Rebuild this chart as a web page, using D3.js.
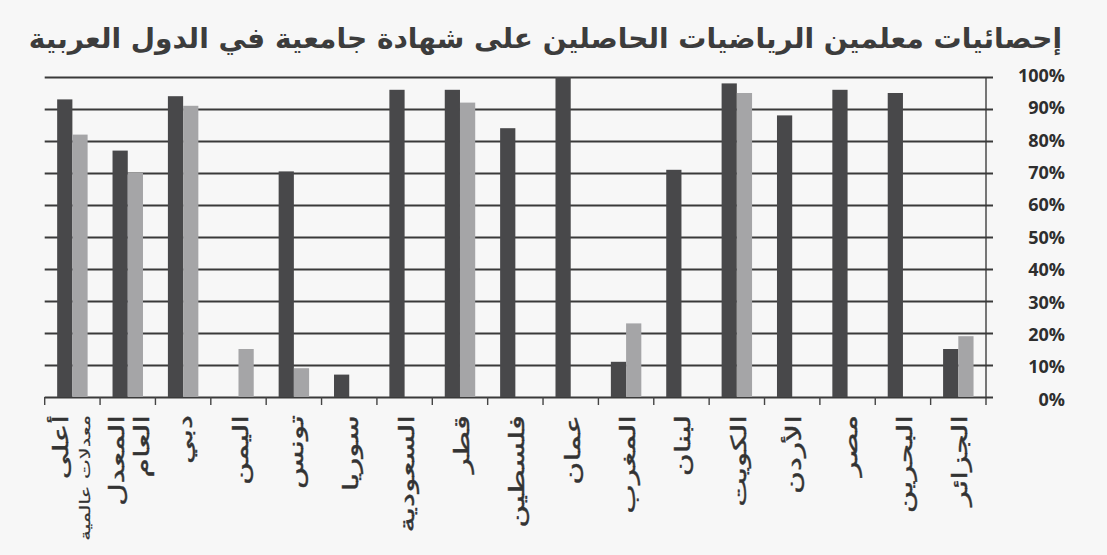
<!DOCTYPE html>
<html>
<head>
<meta charset="utf-8">
<script src="https://cdn.jsdelivr.net/npm/d3@7/dist/d3.min.js"></script>
<style>
  html, body { margin: 0; padding: 0; background: #f7f7f7; }
  svg { display: block; }
  .title { font-family: "DejaVu Sans", sans-serif; font-weight: bold; font-size: 28px; fill: #3c3c3c; }
  .cat-label { font-family: "DejaVu Sans", sans-serif; font-size: 21px; fill: #333; stroke: #333; stroke-width: 0.4px; }
  .y-tick text { font-family: "Open Sans", sans-serif; font-weight: 700; font-size: 18px; fill: #2e2e2e; }
</style>
</head>
<body>
<svg id="chart" width="1107" height="555"></svg>
<script>
// ========= data =========
const titleText = "إحصائيات معلمين الرياضيات الحاصلين على شهادة جامعية في الدول العربية";

const categories = [
    "أعلى معدلات عالمية", "المعدل العام", "دبي", "اليمن", "تونس", "سوريا",
    "السعودية", "قطر", "فلسطين", "عمان", "المغرب", "لبنان",
    "الكويت", "الأردن", "مصر", "البحرين", "الجزائر"
];

// label lines as printed under each category
const categoryLabels = [
    ["أعلى", "معدلات عالمية"], ["المعدل", "العام"], ["دبي"], ["اليمن"], ["تونس"], ["سوريا"],
    ["السعودية"], ["قطر"], ["فلسطين"], ["عمان"], ["المغرب"], ["لبنان"],
    ["الكويت"], ["الأردن"], ["مصر"], ["البحرين"], ["الجزائر"]
];

// dark series and light series (percent), null = no bar
const darkValues  = [93, 77, 94, null, 70.5, 7, 96, 96, 84, 100, 11, 71, 98, 88, 96, 95, 15];
const lightValues = [82, 70, 91, 15, 9, null, null, 92, null, null, 23, null, 95, null, null, null, 19];

const yTicks = [0, 10, 20, 30, 40, 50, 60, 70, 80, 90, 100];

// ========= svg =========
const svg = d3.select("#chart");

const plotLeft = 44.7;
const plotRight = 986;
const plotTop = 77;
const plotBottom = 397;

const x = d3.scaleBand()
    .domain(categories)
    .range([plotLeft, plotRight])
    .paddingInner(0.45)
    .paddingOuter(0.225);

const x1 = d3.scaleBand()
    .domain(["dark", "light"])
    .range([0, x.bandwidth()]);

const y = d3.scaleLinear()
    .domain([0, 100])
    .range([plotBottom, plotTop]);

const colors = { dark: "#48484a", light: "#a5a5a7" };

// ========= title =========
svg.append("text")
    .attr("class", "title")
    .attr("x", 1062)
    .attr("y", 48)
    .attr("direction", "rtl")
    .attr("text-anchor", "start")
    .text(titleText);

// ========= grid + right axis =========
const yAxis = svg.append("g")
    .attr("transform", `translate(${plotRight},0)`)
    .call(d3.axisRight(y).tickValues(yTicks).tickSize(7).tickFormat(d => `${d}%`));

yAxis.select(".domain")
    .attr("d", `M0,${plotTop}V${plotBottom + 8}`)
    .attr("stroke", "#555")
    .attr("stroke-width", 1.6);

yAxis.selectAll(".tick").attr("class", "tick y-tick");
yAxis.selectAll(".tick line")
    .attr("x1", plotLeft - plotRight)
    .attr("x2", 7)
    .attr("stroke", "#3a3a3a")
    .attr("stroke-width", 2);
yAxis.selectAll(".tick text")
    .attr("x", 79)
    .attr("dy", d => `${0.45 - d * 0.002}em`)
    .attr("text-anchor", "end");

// ========= bottom ticks at category boundaries =========
const boundaries = categories.map(c => x(c) - (x.step() - x.bandwidth()) / 2);

svg.append("g")
    .selectAll("line")
    .data(boundaries)
    .join("line")
    .attr("x1", d => d)
    .attr("x2", d => d)
    .attr("y1", plotBottom)
    .attr("y2", plotBottom + 8)
    .attr("stroke", "#444")
    .attr("stroke-width", 1.4);

// ========= bars =========
const rows = categories.map((c, i) => ({ cat: c, dark: darkValues[i], light: lightValues[i] }));

const groups = svg.append("g")
    .selectAll("g")
    .data(rows)
    .join("g")
    .attr("transform", d => `translate(${x(d.cat)},0)`);

groups.selectAll("rect")
    .data(d => ["dark", "light"].filter(k => d[k] != null).map(k => ({ key: k, value: d[k] })))
    .join("rect")
    .attr("x", d => x1(d.key))
    .attr("y", d => y(d.value))
    .attr("width", x1.bandwidth())
    .attr("height", d => plotBottom - y(d.value))
    .attr("fill", d => colors[d.key]);

// ========= category labels (rotated) =========
const labels = svg.append("g")
    .selectAll("g")
    .data(categories.map((c, i) => ({ cat: c, lines: categoryLabels[i] })))
    .join("g")
    .attr("transform", d => `translate(${x(d.cat) + x.bandwidth() / 2},415) rotate(-90) scale(1.5,1)`);

labels.each(function (d) {
    const g = d3.select(this);
    const n = d.lines.length;
    d.lines.forEach((line, j) => {
        const small = n > 1 && line.length > 8;
        g.append("text")
            .attr("class", "cat-label")
            .attr("x", 0)
            .attr("y", n === 1 ? 9 : (j === 0 ? (small ? -7 : -4) : (small ? 18 : 21)))
            .attr("direction", "rtl")
            .attr("text-anchor", "start")
            .style("font-size", small ? "14px" : null)
            .style("stroke-width", small ? "0.2px" : null)
            .text(line);
    });
});
</script>
</body>
</html>
